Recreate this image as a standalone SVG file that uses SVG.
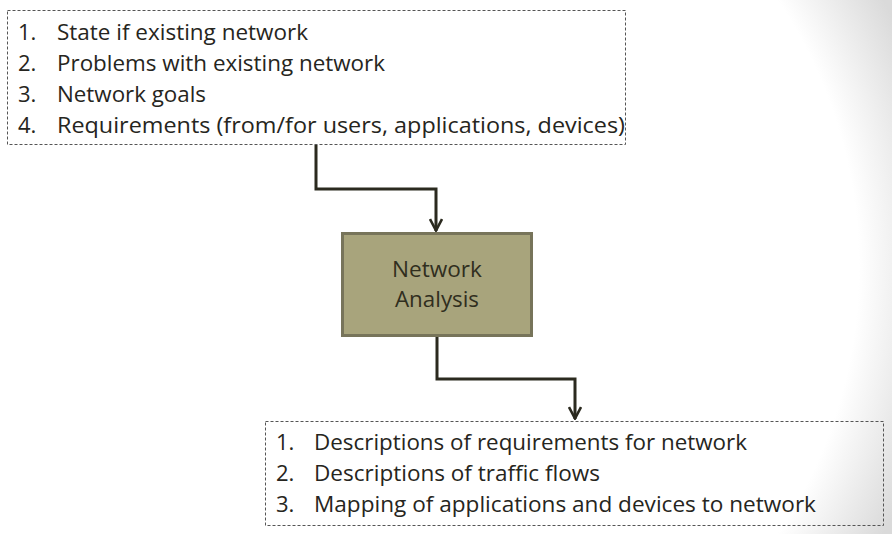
<svg xmlns="http://www.w3.org/2000/svg" width="892" height="534" viewBox="0 0 892 534">
<defs>
<radialGradient id="bg" gradientUnits="userSpaceOnUse" cx="380" cy="267" r="570">
<stop offset="0" stop-color="#ffffff"/>
<stop offset="0.84" stop-color="#ffffff"/>
<stop offset="1" stop-color="#dadada"/>
</radialGradient>
<marker id="arr" viewBox="0 0 14 14" refX="13" refY="7" markerWidth="14" markerHeight="14" markerUnits="userSpaceOnUse" orient="auto">
<path d="M1,1 L12.5,7 L1,13" fill="none" stroke="#2b2a1f" stroke-width="2.6"/>
</marker>
<style>
.list{fill:#ffffff;fill-opacity:0.01;stroke:#555555;stroke-width:1;stroke-dasharray:3 2}
.t{font-family:"Open Sans","Liberation Sans",sans-serif;font-size:22px;fill:#262520}
.c{font-family:"Open Sans","Liberation Sans",sans-serif;font-size:21px;fill:#302e1e;text-anchor:middle}
.proc{fill:#a8a47c;stroke:#77745a;stroke-width:3}
.conn{fill:none;stroke:#2b2a1f;stroke-width:3}
</style>
</defs>
<rect width="892" height="534" fill="url(#bg)"/>
<g id="connectors">
<path class="conn" d="M316,145 V189 H436 V231" marker-end="url(#arr)"/>
<path class="conn" d="M437,336 V379 H575 V419" marker-end="url(#arr)"/>
</g>
<g id="inputs">
<rect class="list" x="7.5" y="10.5" width="618" height="134"/>
<text class="t" x="18" y="40">1.</text>
<text class="t" x="57" y="40" textLength="251" lengthAdjust="spacingAndGlyphs">State if existing network</text>
<text class="t" x="18" y="71">2.</text>
<text class="t" x="57" y="71" textLength="328" lengthAdjust="spacingAndGlyphs">Problems with existing network</text>
<text class="t" x="18" y="102">3.</text>
<text class="t" x="57" y="102" textLength="149" lengthAdjust="spacingAndGlyphs">Network goals</text>
<text class="t" x="18" y="133">4.</text>
<text class="t" x="57" y="133" textLength="568" lengthAdjust="spacingAndGlyphs">Requirements (from/for users, applications, devices)</text>
</g>
<g id="analysis">
<rect class="proc" x="342.5" y="233.5" width="189" height="102"/>
<text class="c" x="437" y="277" textLength="90" lengthAdjust="spacingAndGlyphs">Network</text>
<text class="c" x="437" y="307" textLength="84" lengthAdjust="spacingAndGlyphs">Analysis</text>
</g>
<g id="outputs">
<rect class="list" x="265.5" y="421.5" width="618" height="104"/>
<text class="t" x="276" y="450">1.</text>
<text class="t" x="314" y="450" textLength="433" lengthAdjust="spacingAndGlyphs">Descriptions of requirements for network</text>
<text class="t" x="276" y="481">2.</text>
<text class="t" x="314" y="481" textLength="286" lengthAdjust="spacingAndGlyphs">Descriptions of traffic flows</text>
<text class="t" x="276" y="512">3.</text>
<text class="t" x="314" y="512" textLength="502" lengthAdjust="spacingAndGlyphs">Mapping of applications and devices to network</text>
</g>
</svg>
